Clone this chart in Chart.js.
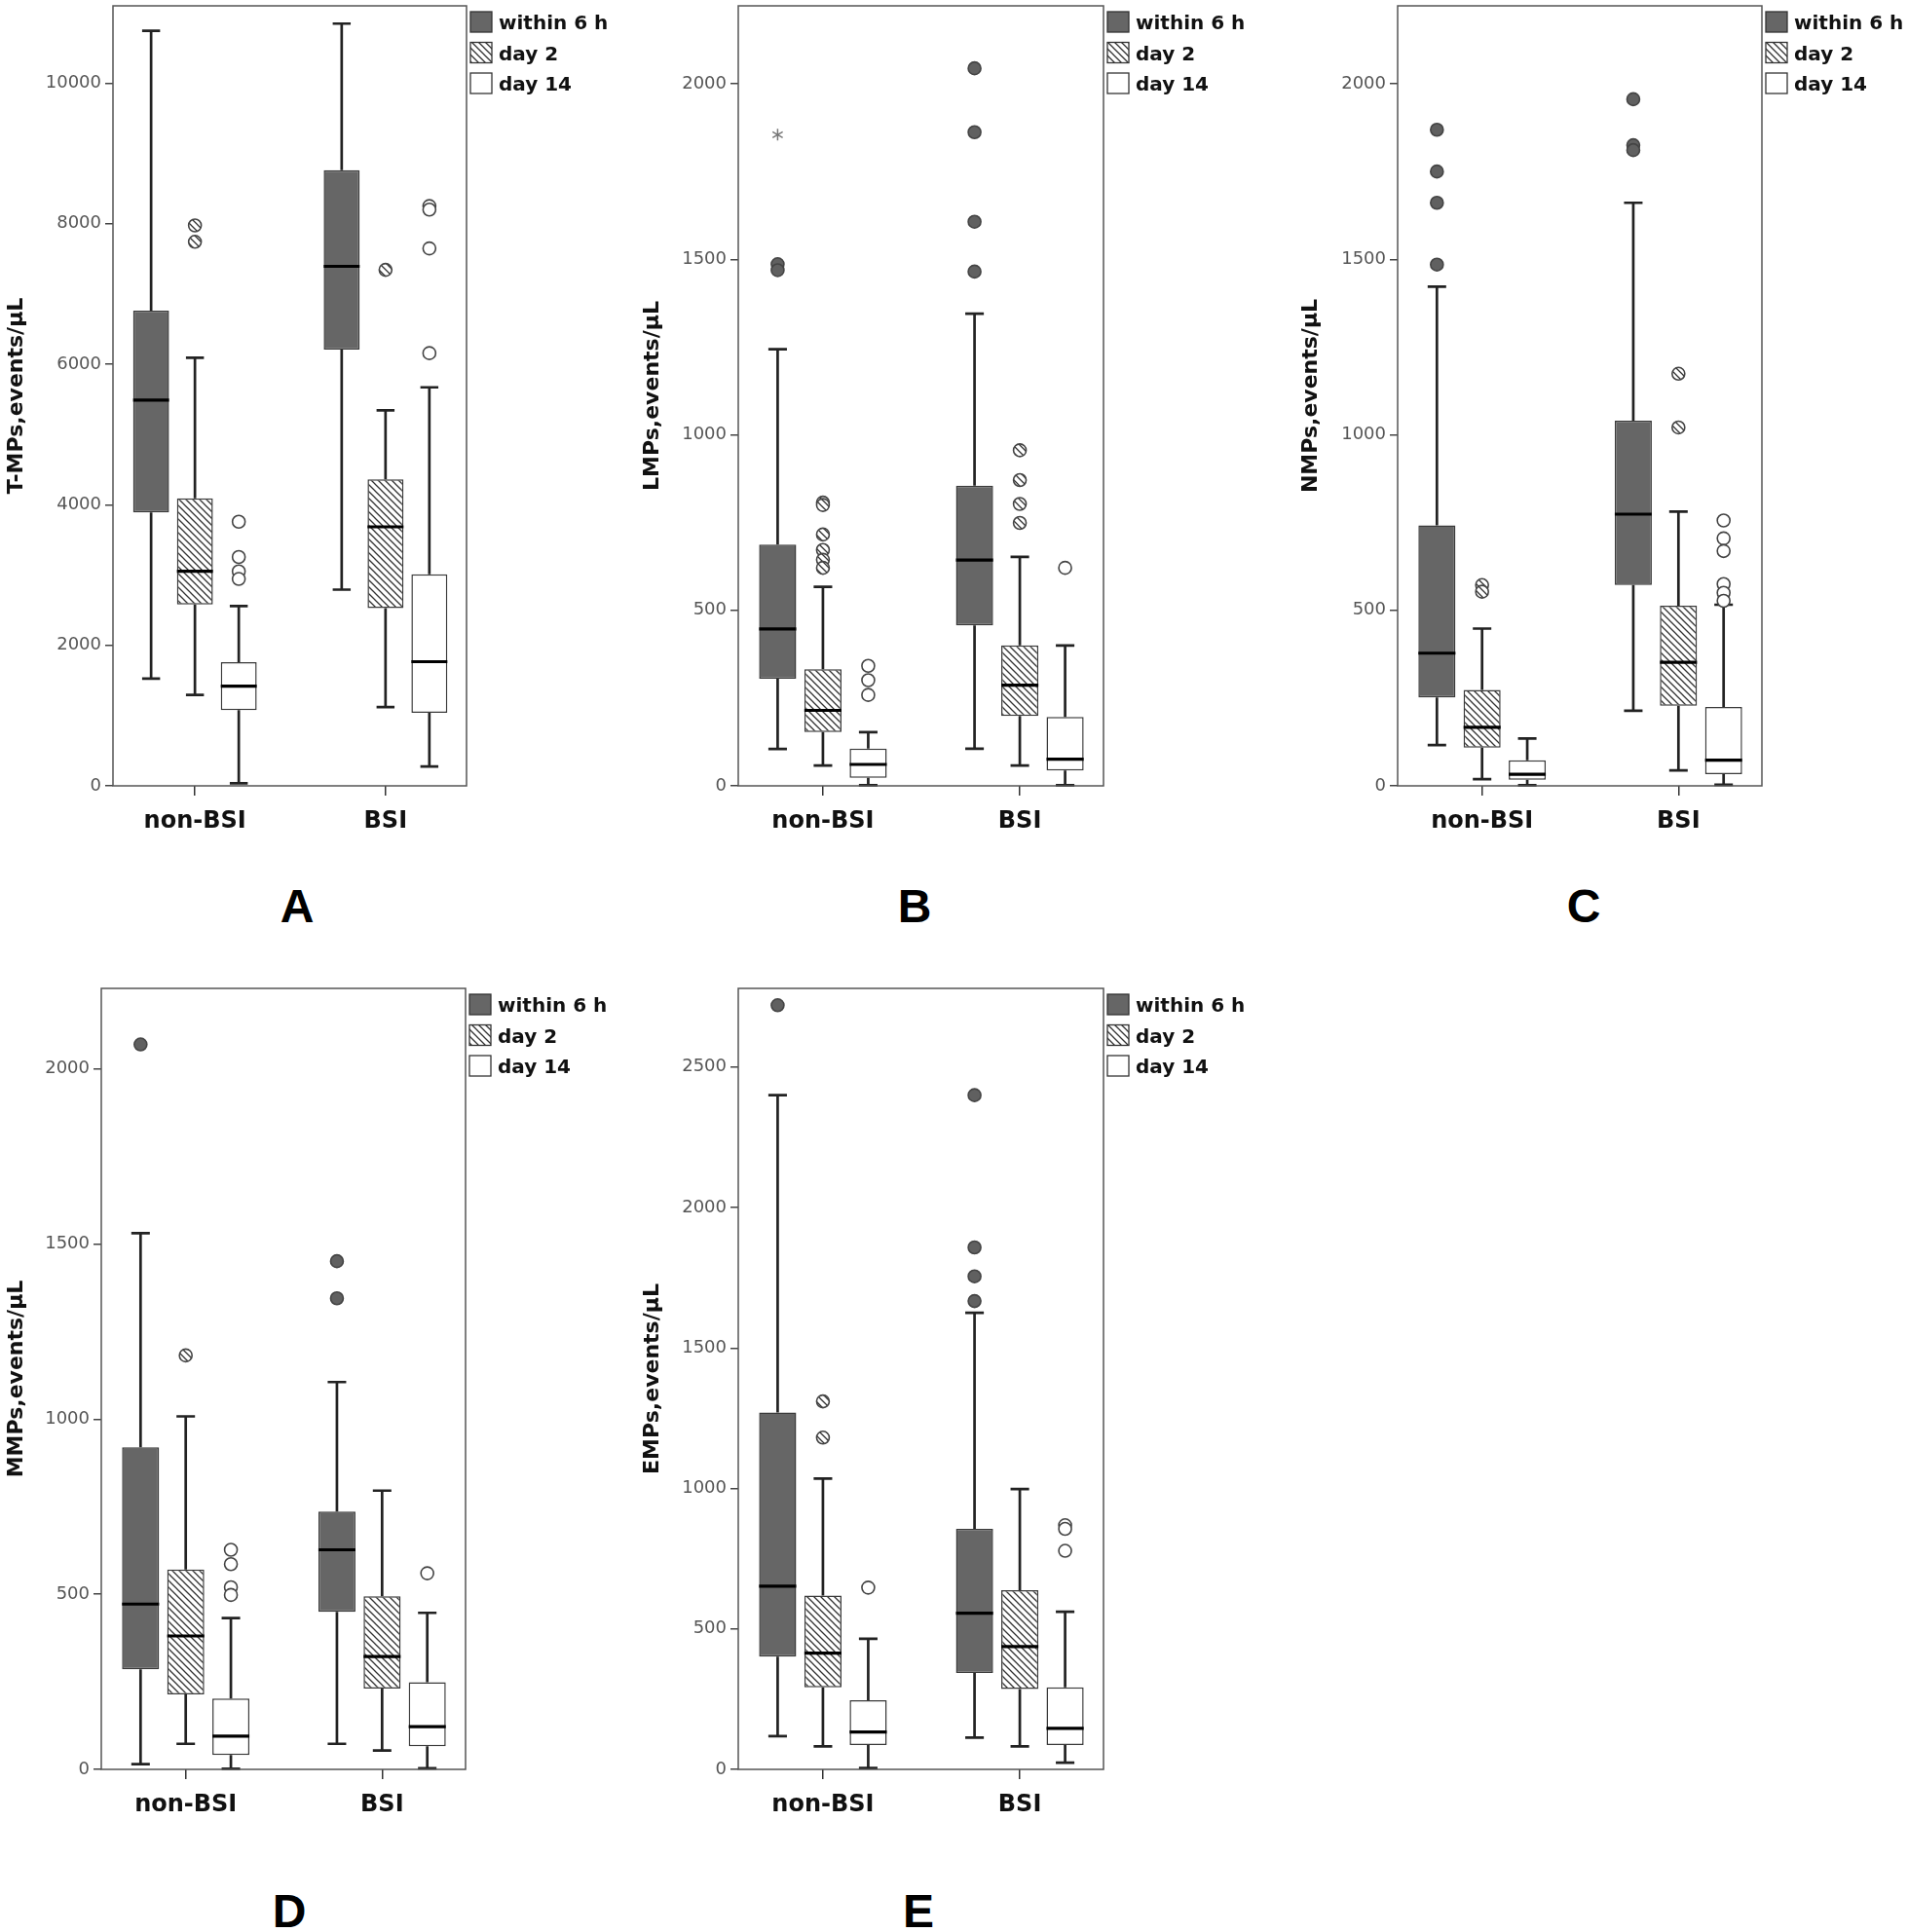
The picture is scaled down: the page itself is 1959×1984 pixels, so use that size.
<!DOCTYPE html>
<html>
<head>
<meta charset="utf-8">
<script src="https://cdn.jsdelivr.net/npm/chart.js@4.4.0/dist/chart.umd.min.js"></script>
<style>
	body { margin:0; background:#fff; width:1959px; height:1984px; position:relative; overflow:hidden; }
	canvas { position:absolute; }
	.tag { position:absolute; width:100px; text-align:center; font:bold 48px "Liberation Sans", Arial, sans-serif; line-height:1; color:#000; }
</style>
</head>
<body>
<script>
var groups = ["non-BSI", "BSI"];
var series = ["within 6 h", "day 2", "day 14"];

// rows = within 6 h, day 2, day 14 ; columns = non-BSI, BSI

// A : T-MPs
var tmpMin = [[1527, 2792], [1294, 1120], [36, 276]];
var tmpQ1  = [[3889, 6209], [2581, 2530], [1076, 1040]];
var tmpMed = [[5489, 7393], [3053, 3686], [1418, 1767]];
var tmpQ3  = [[6761, 8760], [4090, 4362], [1759, 3010]];
var tmpMax = [[10745, 10847], [6092, 5343], [2559, 5671]];
var tmpOut = [[[], []], [[7975, 7742], [7343]], [[3759, 3257, 3053, 2944], [8251, 8200, 7648, 6158]]];
var tmpTicks = [0, 2000, 4000, 6000, 8000, 10000];

// B : LMPs
var lmpMin = [[105, 106], [58, 58], [2, 2]];
var lmpQ1  = [[305, 457], [153, 199], [23, 44]];
var lmpMed = [[447, 643], [215, 287], [61, 76]];
var lmpQ3  = [[687, 855], [332, 400], [106, 196]];
var lmpMax = [[1244, 1345], [567, 652], [153, 400]];
var lmpOut = [[[1486, 1469], [2044, 1862, 1607, 1465]], [[807, 800, 716, 672, 644, 621], [956, 871, 803, 749]], [[342, 301, 259], [621]]];
var lmpExtreme = [[[1855], []], [[], []], [[], []]];
var lmpTicks = [0, 500, 1000, 1500, 2000];

// C : NMPs
var nmpMin = [[116, 214], [19, 44], [2, 3]];
var nmpQ1  = [[252, 572], [109, 228], [17, 33]];
var nmpMed = [[378, 774], [167, 352], [33, 73]];
var nmpQ3  = [[742, 1040], [273, 513], [73, 225]];
var nmpMax = [[1422, 1661], [448, 781], [135, 516]];
var nmpOut = [[[1869, 1750, 1661, 1485], [1956, 1825, 1811]], [[572, 553], [1174, 1021]], [[], [756, 705, 669, 575, 550, 527]]];
var nmpTicks = [0, 500, 1000, 1500, 2000];

// D : MMPs
var mmpMin = [[15, 73], [73, 54], [2, 3]];
var mmpQ1  = [[286, 450], [214, 231], [41, 66]];
var mmpMed = [[472, 627], [381, 322], [95, 122]];
var mmpQ3  = [[920, 736], [571, 494], [202, 249]];
var mmpMax = [[1531, 1106], [1008, 796], [432, 447]];
var mmpOut = [[[2070], [1451, 1345]], [[1182], []], [[627, 586, 520, 498], [560]]];
var mmpTicks = [0, 500, 1000, 1500, 2000];

// E : EMPs
var empMin = [[118, 113], [82, 82], [5, 24]];
var empQ1  = [[401, 343], [292, 286], [87, 87]];
var empMed = [[652, 556], [414, 437], [133, 146]];
var empQ3  = [[1270, 856], [619, 638], [246, 292]];
var empMax = [[2400, 1625], [1035, 998], [465, 561]];
var empOut = [[[2720], [2400, 1858, 1755, 1667]], [[1310, 1181], []], [[647], [869, 856, 778]]];
var empTicks = [0, 500, 1000, 1500, 2000, 2500];

var panels = [
	{tag:"A", title:"T-MPs,events/\u03bcL", min:tmpMin, q1:tmpQ1, med:tmpMed, q3:tmpQ3, max:tmpMax, out:tmpOut, ext:null, ticks:tmpTicks, top:11100},
	{tag:"B", title:"LMPs,events/\u03bcL", min:lmpMin, q1:lmpQ1, med:lmpMed, q3:lmpQ3, max:lmpMax, out:lmpOut, ext:lmpExtreme, ticks:lmpTicks, top:2222},
	{tag:"C", title:"NMPs,events/\u03bcL", min:nmpMin, q1:nmpQ1, med:nmpMed, q3:nmpQ3, max:nmpMax, out:nmpOut, ext:null, ticks:nmpTicks, top:2222},
	{tag:"D", title:"MMPs,events/\u03bcL", min:mmpMin, q1:mmpQ1, med:mmpMed, q3:mmpQ3, max:mmpMax, out:mmpOut, ext:null, ticks:mmpTicks, top:2230},
	{tag:"E", title:"EMPs,events/\u03bcL", min:empMin, q1:empQ1, med:empMed, q3:empQ3, max:empMax, out:empOut, ext:null, ticks:empTicks, top:2780}
];

// where each panel sits on the page
var placement = {
	A: {left:0,    top:0,    width:650, height:867, axisW:116, padTop:6, padRight:171, tagX:255,  tagY:907},
	B: {left:653,  top:0,    width:676, height:867, axisW:105, padTop:6, padRight:196, tagX:889,  tagY:907},
	C: {left:1329, top:0,    width:630, height:867, axisW:106, padTop:6, padRight:150, tagX:1576, tagY:907},
	D: {left:0,    top:1009, width:653, height:868, axisW:104, padTop:6, padRight:175, tagX:247,  tagY:1939},
	E: {left:653,  top:1009, width:676, height:868, axisW:105, padTop:6, padRight:196, tagX:893,  tagY:1939}
};

function hatchPattern(){
	var c = document.createElement("canvas");
	c.width = 7; c.height = 7;
	var g = c.getContext("2d");
	g.fillStyle = "#fff";
	g.fillRect(0, 0, 7, 7);
	g.strokeStyle = "#333";
	g.lineWidth = 1.3;
	g.beginPath();
	g.moveTo(-2, -2); g.lineTo(9, 9);
	g.moveTo(-2, 5);  g.lineTo(2, 9);
	g.moveTo(5, -2);  g.lineTo(9, 2);
	g.stroke();
	return document.createElement("canvas").getContext("2d").createPattern(c, "repeat");
}

var hatch = hatchPattern();
var boxFills = ["#666666", hatch, "#ffffff"];
var dotFills = ["#606060", hatch, "#ffffff"];

var boxStats = {
	id: "boxStats",
	afterDatasetsDraw: function(chart, args, opts){
		var p = opts.panel;
		var ctx = chart.ctx;
		var ys = chart.scales.y;
		ctx.save();
		for(let s = 0; s < series.length; s++){
			var meta = chart.getDatasetMeta(s);
			meta.data.forEach(function(bar, i){
				var x = bar.x, w = bar.width, cap = w * 0.25;
				var yLo = ys.getPixelForValue(p.min[s][i]);
				var yHi = ys.getPixelForValue(p.max[s][i]);
				var yQ1 = ys.getPixelForValue(p.q1[s][i]);
				var yQ3 = ys.getPixelForValue(p.q3[s][i]);
				var yMed = ys.getPixelForValue(p.med[s][i]);

				ctx.strokeStyle = "#222";
				ctx.lineWidth = 2.7;
				ctx.beginPath();
				ctx.moveTo(x, yQ3); ctx.lineTo(x, yHi);
				ctx.moveTo(x - cap, yHi); ctx.lineTo(x + cap, yHi);
				ctx.moveTo(x, yQ1); ctx.lineTo(x, yLo);
				ctx.moveTo(x - cap, yLo); ctx.lineTo(x + cap, yLo);
				ctx.stroke();

				ctx.strokeStyle = "#000";
				ctx.lineWidth = 3.2;
				ctx.beginPath();
				ctx.moveTo(x - w / 2, yMed); ctx.lineTo(x + w / 2, yMed);
				ctx.stroke();

				p.out[s][i].forEach(function(v){
					ctx.beginPath();
					ctx.arc(x, ys.getPixelForValue(v), 6.5, 0, Math.PI * 2);
					ctx.fillStyle = dotFills[s];
					ctx.fill();
					ctx.lineWidth = 1.6;
					ctx.strokeStyle = "#444";
					ctx.stroke();
				});

				if(p.ext){
					p.ext[s][i].forEach(function(v){
						var cy = ys.getPixelForValue(v);
						ctx.strokeStyle = "#777";
						ctx.lineWidth = 1.5;
						ctx.beginPath();
						for(let k = 0; k < 3; k++){
							var a = Math.PI / 2 + k * Math.PI / 3;
							ctx.moveTo(x - Math.cos(a) * 6, cy - Math.sin(a) * 6);
							ctx.lineTo(x + Math.cos(a) * 6, cy + Math.sin(a) * 6);
						}
						ctx.stroke();
					});
				}
			});
		}
		ctx.restore();
	},
	afterDraw: function(chart){
		var ctx = chart.ctx;
		var ca = chart.chartArea;
		ctx.save();
		ctx.strokeStyle = "#555";
		ctx.lineWidth = 1.5;
		ctx.strokeRect(ca.left, ca.top, ca.right - ca.left, ca.bottom - ca.top);

		// legend next to the frame
		var lx = ca.right + 4, ly = ca.top + 6;
		ctx.font = "bold 20px 'DejaVu Sans'";
		ctx.textBaseline = "middle";
		for(let s = 0; s < series.length; s++){
			var yy = ly + s * 31.5;
			ctx.fillStyle = boxFills[s];
			ctx.fillRect(lx, yy, 22, 21);
			ctx.strokeStyle = "#333";
			ctx.lineWidth = 1.3;
			ctx.strokeRect(lx, yy, 22, 21);
			ctx.fillStyle = "#111";
			ctx.fillText(series[s], lx + 29, yy + 13);
		}
		ctx.restore();
	}
};

function desenharPainel(p){
	var pos = placement[p.tag];
	var cv = document.createElement("canvas");
	cv.width = pos.width;
	cv.height = pos.height;
	cv.style.left = pos.left + "px";
	cv.style.top = pos.top + "px";
	document.body.appendChild(cv);

	var datasets = series.map(function(name, s){
		return {
			label: name,
			data: groups.map(function(g, i){ return {x: i, y: [p.q1[s][i], p.q3[s][i]]}; }),
			backgroundColor: boxFills[s],
			borderColor: "#3a3a3a",
			borderWidth: 1.5,
			borderSkipped: false,
			categoryPercentage: 0.69,
			barPercentage: 0.82
		};
	});

	new Chart(cv, {
		type: "bar",
		data: { datasets: datasets },
		plugins: [boxStats],
		options: {
			responsive: false,
			animation: false,
			events: [],
			layout: { padding: { top: pos.padTop, right: pos.padRight, left: 0, bottom: 0 } },
			plugins: {
				legend: { display: false },
				tooltip: { enabled: false },
				boxStats: { panel: p }
			},
			scales: {
				x: {
					type: "linear",
					min: -0.43,
					max: 1.425,
					offset: false,
					afterBuildTicks: function(s){ s.ticks = groups.map(function(g, i){ return {value: i}; }); },
					afterFit: function(s){ s.height = 60; s.paddingLeft = 0; s.paddingRight = 0; },
					grid: { display: true, offset: false, drawOnChartArea: false, drawTicks: true, tickLength: 10, color: "#333", lineWidth: 1.5 },
					border: { display: false },
					ticks: {
						callback: function(v){ return groups[v]; },
						font: { family: "DejaVu Sans", weight: "bold", size: 24 },
						color: "#111",
						padding: 12,
						maxRotation: 0,
						autoSkip: false
					}
				},
				y: {
					min: 0,
					max: p.top,
					afterBuildTicks: function(s){ s.ticks = p.ticks.map(function(v){ return {value: v}; }); },
					afterFit: function(s){ s.width = pos.axisW; s.paddingTop = 0; s.paddingBottom = 0; },
					grid: { drawOnChartArea: false, drawTicks: true, tickLength: 8, color: "#444", lineWidth: 1.5 },
					border: { display: false },
					ticks: {
						callback: function(v){ return String(v); },
						font: { family: "DejaVu Sans", size: 18 },
						color: "#555",
						padding: 4,
						autoSkip: false
					},
					title: {
						display: true,
						text: p.title,
						font: { family: "DejaVu Sans", weight: "bold", size: 22 },
						color: "#111",
						padding: { top: 4, bottom: 0 }
					}
				}
			}
		}
	});

	var t = document.createElement("div");
	t.className = "tag";
	t.style.left = pos.tagX + "px";
	t.style.top = pos.tagY + "px";
	t.textContent = p.tag;
	document.body.appendChild(t);
}

panels.forEach(desenharPainel);
</script>
</body>
</html>
